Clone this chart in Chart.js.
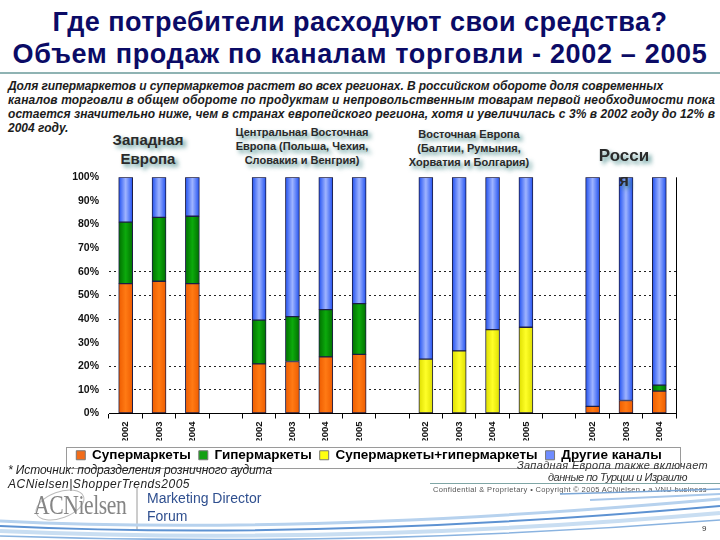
<!DOCTYPE html>
<html><head><meta charset="utf-8">
<script src="https://cdn.jsdelivr.net/npm/chart.js@4/dist/chart.umd.min.js"></script>
<style>
html,body{margin:0;padding:0;background:#fff;}
body{width:720px;height:540px;position:relative;overflow:hidden;font-family:"Liberation Sans",Arial,sans-serif;}
.abs{position:absolute;white-space:nowrap;}
.tl{left:0;width:720px;text-align:center;font-weight:bold;font-size:27px;line-height:32px;color:#0b0b66;}
.tl span{display:inline-block;}
#sep{position:absolute;left:0;top:72px;width:720px;height:2px;background:#8fb3b3;}
#sub{position:absolute;left:8px;top:79px;font-style:italic;font-weight:bold;font-size:12px;line-height:14px;color:#1c1c1c;}
#sub span{display:inline-block;white-space:nowrap;}
.grp{position:absolute;text-align:center;transform:translateX(-50%);white-space:nowrap;color:#2a2a2a;text-shadow:3px 3px 4px rgba(40,120,120,0.75);}
#wrap{position:absolute;left:62px;top:161px;width:628px;height:311px;}
.foot{position:absolute;font-style:italic;font-size:12px;color:#222;white-space:nowrap;}
.note{position:absolute;font-style:italic;font-size:11px;color:#333;white-space:nowrap;}
</style></head>
<body>
<div class="abs tl" style="top:6px"><span class="fit" data-w="615">Где потребители расходуют свои средства?</span></div>
<div class="abs tl" style="top:38px"><span class="fit" data-w="695">Объем продаж по каналам торговли - 2002 – 2005</span></div>
<div id="sep"></div>
<div id="sub">
<span class="fit" data-w="655">Доля гипермаркетов и супермаркетов растет во всех регионах. В российском обороте доля современных</span><br>
<span class="fit" data-w="707">каналов торговли в общем обороте по продуктам и непровольственным товарам первой необходимости пока</span><br>
<span class="fit" data-w="707">остается значительно ниже, чем в странах европейского региона, хотя и увеличилась с 3% в 2002 году до 12% в</span><br>
<span>2004 году.</span>
</div>

<div class="grp" style="left:148px;top:130px;font-weight:bold;font-size:15px;line-height:19px;">Западная<br>Европа</div>
<div class="grp" style="left:302px;top:125px;font-weight:bold;font-size:11px;line-height:14px;">Центральная Восточная<br>Европа (Польша, Чехия,<br>Словакия и Венгрия)</div>
<div class="grp" style="left:469px;top:127px;font-weight:bold;font-size:11px;line-height:14px;">Восточная Европа<br>(Балтии, Румыния,<br>Хорватия и Болгария)</div>

<div id="wrap"><canvas id="c"></canvas></div>

<div class="grp" style="left:624px;top:143px;font-weight:bold;font-size:17px;line-height:25px;">Росси<br>я</div>

<div class="foot" style="left:8px;top:463px;"><span class="fit" data-w="264">* Источник: подразделения розничного аудита</span></div>
<div class="foot" style="left:8px;top:477px;"><span class="fit" data-w="182">ACNielsen|ShopperTrends2005</span></div>
<div class="note" style="left:517px;top:459px;"><span class="fit" data-w="191">Западная Европа также включает</span></div>
<div class="note" style="left:548px;top:471px;"><span class="fit" data-w="139">данные по Турции и Израилю</span></div>
<div style="position:absolute;left:430px;top:483px;width:290px;height:1px;background:#7fa6a6;"></div>
<div class="abs" style="left:433px;top:485px;font-size:7.5px;color:#555;"><span class="fit" data-w="274">Confidential &amp; Proprietary • Copyright © 2005 ACNielsen • a VNU business</span></div>

<svg style="position:absolute;left:0;top:0" width="720" height="540">
  <ellipse cx="60" cy="505" rx="25" ry="13" fill="none" stroke="#bcbcbc" stroke-width="1" transform="rotate(-20 60 505)"/>
  <line x1="137" y1="487" x2="137" y2="530" stroke="#9a9a9a" stroke-width="1"/>
  <path d="M0,521 Q300,536 720,499" fill="none" stroke="#b7d2ee" stroke-width="3"/>
  <path d="M0,526 Q320,541 720,506" fill="none" stroke="#5d92d2" stroke-width="2"/>
  <path d="M0,531 Q340,546 720,513" fill="none" stroke="#c9def2" stroke-width="4"/>
  <path d="M0,536 Q360,548 720,520" fill="none" stroke="#8ab3e0" stroke-width="1.5"/>
  <path d="M560,494 Q640,492 720,489" fill="none" stroke="#7aa6d6" stroke-width="1.5"/>
  <path d="M590,500 Q650,497 720,494" fill="none" stroke="#a9c8ea" stroke-width="2"/>
</svg>
<div class="abs" style="left:34px;top:490px;font-family:'Liberation Serif',serif;font-size:27px;color:#858585;transform:scaleX(0.8);transform-origin:left top;letter-spacing:-0.5px;">ACNielsen</div>
<div class="abs" style="left:147px;top:489px;font-size:14px;line-height:18px;color:#2f4f8f;">Marketing Director<br>Forum</div>
<div class="abs" style="left:702px;top:524px;font-size:8px;color:#333;">9</div>

<script>
// ---- data ----
const categories = ['2002','2003','2004','','2002','2003','2004','2005','','2002','2003','2004','2005','','2002','2003','2004'];
const seriesNames = ['Супермаркеты','Гипермаркеты','Супермаркеты+гипермаркеты','Другие каналы'];
const supermarkets = [55, 56, 55, null, 21, 22, 24, 25, null, null, null, null, null, null, 3, 5.5, 9.5];
const hypermarkets = [26, 27, 28.5, null, 18.5, 19, 20, 21.5, null, null, null, null, null, null, null, null, 2.5];
const superHyper   = [null, null, null, null, null, null, null, null, null, 23, 26.5, 35.5, 36.5, null, null, null, null];
const otherChannels= [19, 17, 16.5, null, 60.5, 59, 56, 53.5, null, 77, 73.5, 64.5, 63.5, null, 97, 94.5, 88];
const yTicks = [0,10,20,30,40,50,60,70,80,90,100];
const dottedLevels = [10,20,40,50,60];

// fit text widths
document.querySelectorAll('.fit').forEach(el=>{
  const t = +el.dataset.w; const w = el.getBoundingClientRect().width; const n = el.textContent.length;
  el.style.letterSpacing = ((t - w)/n).toFixed(3)+'px';
});

const BAR_W = 14;
function grad(edge, mid){
  return (c)=>{
    const chart = c.chart;
    if (!chart.chartArea || c.type !== 'data') return mid;
    const x = chart.scales.x.getPixelForValue(c.dataIndex);
    const g = chart.ctx.createLinearGradient(x - BAR_W/2, 0, x + BAR_W/2, 0);
    g.addColorStop(0, edge); g.addColorStop(0.5, mid); g.addColorStop(1, edge);
    return g;
  };
}
const fills = [
  grad('#ee5c00','#ff7a14'),
  grad('#007000','#0caa0c'),
  grad('#dede00','#ffff28'),
  grad('#2050f0','#9fb4ff')
];
const legendColors = ['#f26c1a','#13a013','#ffff10','#6f8cff'];

const ds = [supermarkets, hypermarkets, superHyper, otherChannels].map((d,i)=>({
  label: seriesNames[i], data: d, backgroundColor: fills[i],
  borderColor:'#1d1d45', borderWidth:1, borderSkipped:false,
  barThickness: BAR_W
}));

const frame = {
  id:'frame',
  afterDraw(chart){
    const {ctx, chartArea:a, legend} = chart;
    ctx.save();
    ctx.strokeStyle = '#000'; ctx.lineWidth = 1;
    ctx.beginPath(); ctx.moveTo(Math.round(a.right)+0.5, a.top); ctx.lineTo(Math.round(a.right)+0.5, a.bottom); ctx.stroke();
    if (legend && legend.legendHitBoxes.length){
      const hb = legend.legendHitBoxes;
      const l = Math.min(...hb.map(h=>h.left)) - 10;
      const r = Math.max(...hb.map(h=>h.left+h.width)) + 19;
      const t = hb[0].top - 2, b = hb[0].top + hb[0].height + 5;
      ctx.strokeStyle = '#9a9a9a';
      ctx.strokeRect(Math.round(l)+0.5, Math.round(t)+0.5, Math.round(r-l), Math.round(b-t));
    }
    ctx.restore();
  }
};

new Chart(document.getElementById('c'), {
  type:'bar',
  data:{ labels: categories, datasets: ds },
  plugins:[frame],
  options:{
    responsive:true, maintainAspectRatio:false, animation:false,
    layout:{ padding:{ top:2, right:14, left:0, bottom:0 } },
    plugins:{
      tooltip:{enabled:false},
      legend:{
        position:'bottom',
        labels:{
          font:{family:'"Liberation Sans", Arial, sans-serif', size:13.5, weight:'bold'},
          color:'#111', boxWidth:9, boxHeight:9, padding:8,
          generateLabels:(chart)=>chart.data.datasets.map((d,i)=>({
            text:d.label, fillStyle:legendColors[i], strokeStyle:'#777', lineWidth:1, datasetIndex:i, hidden:false
          }))
        }
      }
    },
    scales:{
      x:{
        stacked:true, offset:true,
        afterFit:(s)=>{ s.height = 27; },
        grid:{ display:true, offset:true, drawOnChartArea:false, drawTicks:true, tickLength:5, color:'#000' },
        border:{ display:true, color:'#000', width:1 },
        ticks:{ autoSkip:false, minRotation:90, maxRotation:90, padding:3, color:'#111',
          font:{family:'"Liberation Sans", Arial, sans-serif', size:9.5, weight:'bold'} }
      },
      y:{
        stacked:true, min:0, max:100,
        afterFit:(s)=>{ s.width = 47; },
        afterBuildTicks:(s)=>{ s.ticks = yTicks.map(v=>({value:v})); },
        grid:{ drawTicks:false, lineWidth:1,
          color:(c)=> (c.tick && dottedLevels.includes(c.tick.value)) ? '#222' : 'rgba(0,0,0,0)' },
        border:{ display:false, dash:[2,3] },
        ticks:{ padding:10, color:'#111', callback:(v)=>v+'%',
          font:{family:'"Liberation Sans", Arial, sans-serif', size:10.5, weight:'bold'} }
      }
    }
  }
});
</script>
</body></html>
